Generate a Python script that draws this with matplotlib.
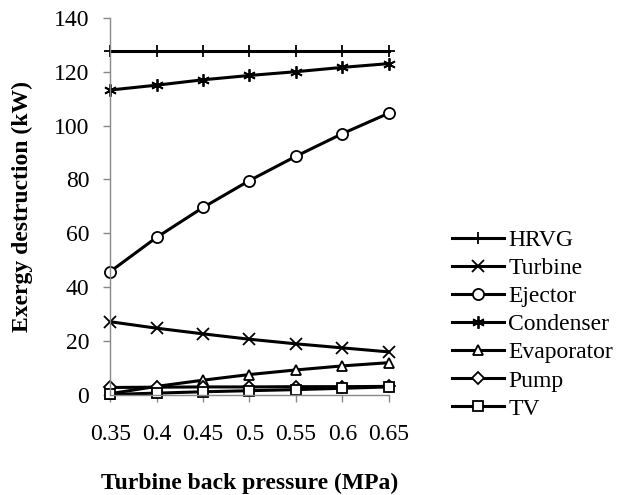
import matplotlib
matplotlib.use('Agg')
import matplotlib.pyplot as plt

# ---------------------------------- data ----------------------------------#
pressure = [0.35, 0.4, 0.45, 0.5, 0.55, 0.6, 0.65]
pressure_labels = ['0.35', '0.4', '0.45', '0.5', '0.55', '0.6', '0.65']

hrvg = [127.5, 127.5, 127.5, 127.5, 127.5, 127.5, 127.5]
turbine = [27.2, 24.8, 22.7, 20.7, 19.0, 17.5, 16.0]
ejector = [45.8, 58.5, 69.6, 79.6, 88.6, 97.0, 104.6]
condenser = [113.2, 115.0, 117.0, 118.6, 120.0, 121.6, 123.0]
evaporator = [0.5, 3.2, 5.5, 7.6, 9.3, 10.8, 12.0]
pump = [2.8, 2.9, 3.0, 3.0, 3.1, 3.1, 3.2]
tv = [0.2, 0.7, 1.2, 1.6, 2.0, 2.5, 3.0]

series = [
    ('HRVG', hrvg, '+'),
    ('Turbine', turbine, 'x'),
    ('Ejector', ejector, 'o'),
    ('Condenser', condenser, (6, 2, 0)),
    ('Evaporator', evaporator, '^'),
    ('Pump', pump, 'D'),
    ('TV', tv, 's'),
]

FS = 17

# ---------------------------------- plot ----------------------------------#
plt.rcParams['font.family'] = ['Liberation Serif', 'DejaVu Serif']

fig = plt.figure(figsize=(6.19, 4.95), dpi=100)
ax = fig.add_axes([0.178, 0.202, 0.45, 0.762])

for name, vals, mk in series:
    ms = {'o': 8, 'D': 6, '+': 9, 'x': 8}.get(mk, 7.5) if isinstance(mk, str) else 9
    ax.plot(pressure, vals, color='black', lw=2.2, marker=mk, ms=ms,
            mfc='white', mec='black', mew=1.3, label=name, clip_on=False)

ax.set_xlim(0.35, 0.65)
ax.set_ylim(0, 140)
ax.set_yticks(range(0, 141, 20))
ax.set_xticks(pressure)
ax.set_xticklabels(pressure_labels)

for side in ['top', 'right']:
    ax.spines[side].set_visible(False)
for side in ['left', 'bottom']:
    ax.spines[side].set_color('#888888')
    ax.spines[side].set_linewidth(1.0)
ax.tick_params(axis='both', colors='#888888', labelcolor='black', labelsize=FS,
               length=5, width=1.0)
ax.tick_params(axis='x', pad=16)
ax.tick_params(axis='y', pad=10)

ax.set_ylabel('Exergy destruction (kW)', fontsize=FS, fontweight='bold', labelpad=15)
ax.set_xlabel('Turbine back pressure (MPa)', fontsize=FS, fontweight='bold', labelpad=20)

ax.legend(loc='center left', bbox_to_anchor=(1.226, 0.187), frameon=False,
          fontsize=FS, handlelength=2.2, handletextpad=0.2, labelspacing=0.28,
          borderaxespad=0, borderpad=0)

fig.savefig('out.png', dpi=100)
